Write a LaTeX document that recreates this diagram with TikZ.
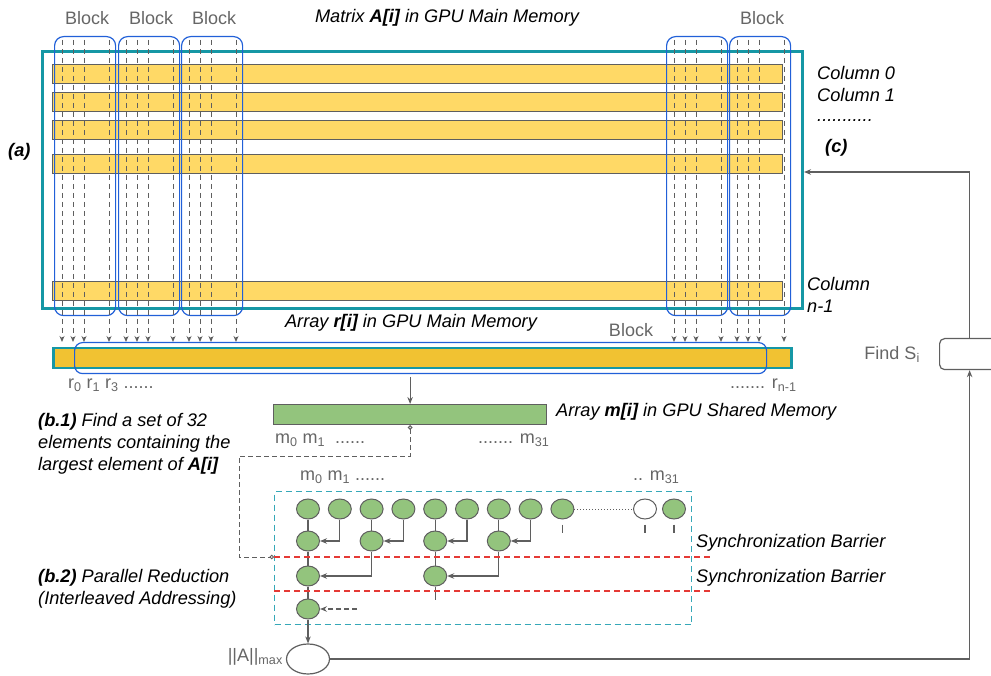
\documentclass[tikz,border=0pt]{standalone}
\usepackage{fontspec}
\setmainfont{Liberation Sans}
\usetikzlibrary{calc, positioning, arrows.meta, shapes.geometric}

\definecolor{tealline}{HTML}{1597A5}
\definecolor{blockblue}{HTML}{2160D8}
\definecolor{baryellow}{HTML}{FFD966}
\definecolor{rbarfill}{HTML}{F1C232}
\definecolor{mgreen}{HTML}{93C47D}
\definecolor{txtgray}{HTML}{666666}
\definecolor{linegray}{HTML}{5F5F5F}
\definecolor{barrierred}{HTML}{E53935}
\definecolor{cyanbox}{HTML}{35A8B8}

\begin{document}
\begin{tikzpicture}[x=1pt, y=-1pt, font=\fontsize{18}{22}\selectfont,
		colbar/.style={draw=linegray, line width=1.2pt, fill=baryellow, anchor=north west, minimum width=730, minimum height=19, inner sep=0},
		blockbox/.style={draw=blockblue, line width=1.2pt, rounded corners=9pt, anchor=north west, minimum width=61, minimum height=279, inner sep=0},
		grey/.style={text=txtgray, inner sep=0},
		lbl/.style={font=\fontsize{18.2}{22}\selectfont\itshape, inner sep=0, anchor=west, align=left},
		boldlbl/.style={lbl, font=\fontsize{18.2}{22}\selectfont\bfseries\itshape},
		feed/.style={draw=linegray, line width=1pt, dash pattern=on 5pt off 4pt, -{Stealth[length=6pt, width=5pt]}},
		conn/.style={draw=linegray, line width=1.1pt, -{Stealth[length=7pt, width=5.5pt]}},
		link/.style={draw=linegray, line width=1.1pt},
		elem/.style={ellipse, draw=linegray, line width=1pt, fill=mgreen, minimum width=23, minimum height=20, inner sep=0},
		barrier/.style={draw=barrierred, line width=1.1pt, dash pattern=on 6pt off 4pt}]
		
		\useasboundingbox (0,0) rectangle (991,676);
		
		% --- (a) MATRIX A[i] IN MAIN MEMORY ---
		\node[draw=tealline, line width=3pt, anchor=north west, minimum width=760, minimum height=257, inner sep=0] (MatrixBox) at (41,50) {};
		\foreach \y/\nm in {64/col0, 92/col1, 120/col2, 154/col3, 281/colN}
			\node[colbar] (\nm) at (52,\y) {};
		
		% Thread blocks
		\foreach \x/\nm in {54/blk1, 118/blk2, 181/blk3, 666/blk4, 729/blk5}
			\node[blockbox] (\nm) at (\x,36) {};
		\foreach \nm in {blk1, blk2, blk3, blk5}
			\node[grey] (\nm-lbl) at ($(\nm.north)+(2,-18)$) {Block};
		
		% Threads reading down the columns
		\foreach \x in {54,118,181,666,729}
			\foreach \o in {8,19,30,55}
				\draw[feed] (\x+\o,40) -- (\x+\o,342);
		
		\node[lbl, anchor=center] (MatrixTitle) at (447,18) {Matrix \textbf{A[i]} in GPU Main Memory};
		\node[boldlbl] (aLbl) at (8,152) {(a)};
		\node[lbl] (col0Lbl) at (817,73) {Column 0};
		\node[lbl] (col1Lbl) at (817,95) {Column 1};
		\node[lbl] (dotsLbl) at (817,121) {...........};
		\node[boldlbl] (cLbl) at (825,148) {(c)};
		\node[lbl] (colNLbl) at (807,295) {Column\\n-1};
		
		% --- ARRAY r[i] ---
		\node[lbl, anchor=center] (rTitle) at (411,323) {Array \textbf{r[i]} in GPU Main Memory};
		\node[draw=tealline, line width=2.5pt, fill=rbarfill, anchor=north west, minimum width=738, minimum height=20, inner sep=0] (rBar) at (52,347) {};
		\node[blockbox, minimum width=692, minimum height=31, rounded corners=8pt] (rBlock) at (74,342) {};
		\node[grey] (rBlockLbl) at (631,330) {Block};
		\node[grey, anchor=west] (rFirst) at (68,385) {r\textsubscript{0} r\textsubscript{1} r\textsubscript{3} ......};
		\node[grey, anchor=west] (rLast) at (730,385) {....... r\textsubscript{n-1}};
		
		% --- (b.1) ARRAY m[i] IN SHARED MEMORY ---
		\node[draw=linegray, line width=1.2pt, fill=mgreen, anchor=north west, minimum width=273, minimum height=20, inner sep=0] (mBar) at (273,404) {};
		\draw[conn] ($(mBar.north)+(0,-27)$) -- (mBar.north);
		\node[lbl] (mTitle) at (556,412) {Array \textbf{m[i]} in GPU Shared Memory};
		\node[grey, anchor=west] (mFirst) at (275,440) {m\textsubscript{0} m\textsubscript{1} \ ......};
		\node[grey, anchor=west] (mLast) at (478,440) {....... m\textsubscript{31}};
		\node[lbl] (noteB1) at (38,444) {\textbf{(b.1)} Find a set of 32\\elements containing the\\largest element of \textbf{A[i]}};
		
		% --- (b.2) PARALLEL REDUCTION ---
		\node[draw=cyanbox, line width=1.1pt, dash pattern=on 6pt off 4pt, anchor=north west, minimum width=417, minimum height=133, inner sep=0] (RedBox) at (274,491) {};
		\node[grey, anchor=west] (rmFirst) at (300,477) {m\textsubscript{0} m\textsubscript{1} ......};
		\node[grey, anchor=west] (rmLast) at (633,477) {.. m\textsubscript{31}};
		\node[lbl] (noteB2) at (38,589) {\textbf{(b.2)} Parallel Reduction\\(Interleaved Addressing)};
		
		% Step 0: the 32 elements
		\foreach \i in {1,...,9}
			\node[elem] (a\i) at ({308+31.8*(\i-1)},509) {};
		\node[elem, fill=white] (aW) at (645,509) {};
		\node[elem] (aL) at (674,509) {};
		\draw[dotted, line width=1pt, linegray] (a9.east) -- (aW.west);
		\foreach \nm in {a9, aW, aL}
			\draw[link] ($(\nm.south)+(0,5)$) -- ++(0,8);
		
		% Step 1
		\foreach \k/\src in {1/1, 2/3, 3/5, 4/7} {
			\pgfmathtruncatemacro\nxt{\src+1}
			\node[elem] (b\k) at (a\src |- 0,541) {};
			\draw[link] (a\src) -- (b\k);
			\draw[conn] (a\nxt.south) |- (b\k.east);
		}
		
		% Step 2
		\node[elem] (c1) at (a1 |- 0,576) {};
		\node[elem] (c2) at (a5 |- 0,576) {};
		\draw[link] (b1) -- (c1);
		\draw[conn] (b2.south) |- (c1.east);
		\draw[link] (b3) -- (c2);
		\draw[conn] (b4.south) |- (c2.east);
		\draw[link] (c2.south) -- ++(0,13);
		
		% Step 3
		\node[elem] (d1) at (a1 |- 0,609) {};
		\draw[link] (c1) -- (d1);
		\draw[conn, dash pattern=on 5pt off 3pt] ($(d1.east)+(37,0)$) -- (d1.east);
		
		% Synchronization barriers
		\coordinate (sync1L) at (274,557);
		\coordinate (sync1R) at (712,557);
		\coordinate (sync2L) at (274,591);
		\coordinate (sync2R) at (712,591);
		\draw[barrier] (sync1L) -- (sync1R);
		\draw[barrier] (sync2L) -- (sync2R);
		\node[lbl] (sync1) at (696,543) {Synchronization Barrier};
		\node[lbl] (sync2) at (696,578) {Synchronization Barrier};
		
		% m[i] handed over to the reduction
		\draw[draw=linegray, line width=1pt, dash pattern=on 5pt off 3pt, {Circle[open, length=4.5pt]}-{Circle[open, length=4.5pt]}] (mBar.south) |- (239,456) -- (239,557) -- (sync1L);
		
		% --- RESULT AND FEEDBACK (c) ---
		\node[ellipse, draw=linegray, line width=1.2pt, fill=white, minimum width=43, minimum height=30, inner sep=0] (Norm) at (308,659) {};
		\node[grey, anchor=east] (NormLbl) at (283,657) {||A||\textsubscript{max}};
		\draw[conn] (d1) -- (Norm);
		
		\node[draw=linegray, line width=1.2pt, rounded corners=5pt, anchor=north west, minimum width=60, minimum height=31, inner sep=0] (FindS) at (939,338) {};
		\node[grey, left=19pt of FindS] (FindSLbl) {Find S\textsubscript{i}};
		\draw[conn] (Norm.east) -| (FindS.south);
		\coordinate (MatrixIn) at (MatrixBox.east |- 0,172);
		\draw[conn] (FindS.north) |- (MatrixIn);
		
	\end{tikzpicture}
\end{document}
